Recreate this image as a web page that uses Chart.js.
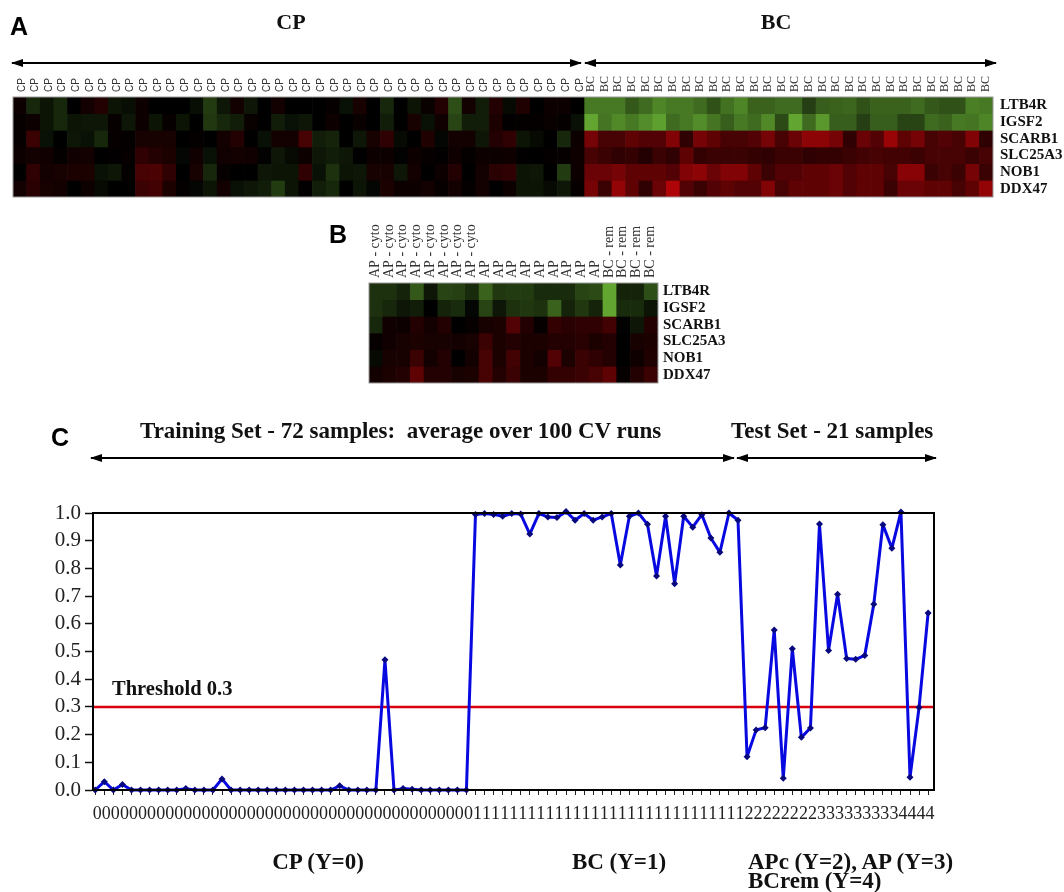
<!DOCTYPE html>
<html lang="en">

<head>
    <meta charset="UTF-8">
    <title>Classifier panels</title>
    <script src="https://cdn.jsdelivr.net/npm/chart.js"></script>
    <style>
        html, body { margin: 0; padding: 0; background: #fff; }
        #page { position: relative; width: 1064px; height: 892px; overflow: hidden; }
        canvas { position: absolute; left: 0; }
        .t { position: absolute; font: bold 23px "Liberation Serif", serif; color: #111; white-space: pre; line-height: 24px; }
        .c { transform: translateX(-50%); }
        .p { font: bold 25px "Liberation Sans", sans-serif; color: #000; line-height: 28px; }
        svg { position: absolute; left: 0; top: 0; }
    </style>
</head>

<body>
    <div id="page">
        <canvas id="panelA" width="1064" height="153" style="top:60px"></canvas>
        <canvas id="panelB" width="1064" height="182" style="top:215px"></canvas>
        <canvas id="panelC" width="1064" height="340" style="top:490px"></canvas>

        <svg width="1064" height="892">
            <defs>
                <marker id="head" markerUnits="userSpaceOnUse" markerWidth="12" markerHeight="8" refX="11" refY="4" orient="auto-start-reverse">
                    <path d="M0,0 L12,4 L0,8 z" fill="#000"></path>
                </marker>
            </defs>
            <g stroke="#000" stroke-width="2">
                <line x1="12" y1="63" x2="581" y2="63" marker-start="url(#head)" marker-end="url(#head)"></line>
                <line x1="585" y1="63" x2="996" y2="63" marker-start="url(#head)" marker-end="url(#head)"></line>
                <line x1="91" y1="458" x2="734" y2="458" marker-start="url(#head)" marker-end="url(#head)"></line>
                <line x1="737" y1="458" x2="936" y2="458" marker-start="url(#head)" marker-end="url(#head)"></line>
            </g>
        </svg>

        <div class="t p" style="left:10px;top:12px">A</div>
        <div class="t p" style="left:329px;top:220px">B</div>
        <div class="t p" style="left:51px;top:423px">C</div>
        <div class="t c" style="left:291px;top:10px;font-size:22px">CP</div>
        <div class="t c" style="left:776px;top:10px;font-size:22px">BC</div>
        <div class="t" style="left:140px;top:419px">Training Set - 72 samples:  average over 100 CV runs</div>
        <div class="t" style="left:731px;top:419px">Test Set - 21 samples</div>
        <div class="t" style="left:112px;top:676px;font-size:20.5px">Threshold 0.3</div>
        <div class="t c" style="left:318px;top:850px">CP (Y=0)</div>
        <div class="t c" style="left:619px;top:850px">BC (Y=1)</div>
        <div class="t" style="left:748px;top:850px">APc (Y=2), AP (Y=3)</div>
        <div class="t" style="left:748px;top:869px">BCrem (Y=4)</div>
    </div>

    <script>
        const genes = ['LTB4R', 'IGSF2', 'SCARB1', 'SLC25A3', 'NOB1', 'DDX47'];

        // panel A samples, 42 CP then 30 BC. negative = green, positive = red
        const samplesA = [...Array(42).fill('CP'), ...Array(30).fill('BC')];
        const a_LTB4R = [.05, -.2, -.1, -.2, 0, .08, .15, -.1, -.07, .05, 0, 0, 0, -.07, -.3, -.12, .08, -.12, 0, .08, 0, 0, 0, .03, -.08, .1, 0, -.2, 0, -.1, .04, .15, -.4, .08, -.15, .15, -.05, .13, 0, .05, .05, 0,
            -.62, -.62, -.62, -.45, -.55, -.68, -.62, -.62, -.55, -.42, -.58, -.68, -.5, -.5, -.55, -.55, -.32, -.48, -.5, -.52, -.42, -.5, -.5, -.5, -.55, -.45, -.42, -.42, -.65, -.62];
        const a_IGSF2 = [.03, .05, -.1, -.2, -.1, -.12, -.12, .03, -.12, .05, -.1, .03, -.1, 0, -.28, -.2, -.15, .04, 0, -.15, -.08, -.12, 0, .05, 0, .04, 0, -.15, 0, .1, -.08, .07, -.35, -.15, -.15, .12, .01, .02, .02, .04, .02, -.08,
            -.85, -.6, -.7, -.62, -.72, -.82, -.55, -.62, -.72, -.6, -.48, -.62, -.55, -.7, -.38, -.85, -.55, -.78, -.48, -.48, -.32, -.48, -.48, -.35, -.35, -.55, -.5, -.62, -.6, -.68];
        const a_SCARB1 = [.03, .25, -.08, 0, -.12, -.08, -.2, .03, .02, .1, .1, .1, 0, .02, 0, .08, .15, 0, -.08, .08, .08, .3, -.15, -.18, 0, -.12, .1, .2, -.05, 0, .13, -.03, .08, .08, -.12, .15, .2, -.1, -.05, 0, -.2, .05,
            .5, .3, .3, .4, .35, .35, .55, .2, .5, .4, .3, .3, .35, .5, .3, .45, .6, .6, .5, .2, .45, .35, .65, .4, .5, .3, .35, .3, .55, .2];
        const a_SLC25A3 = [.05, .08, .07, .02, .07, .08, 0, .01, .03, .2, .15, .12, -.03, .07, -.08, .07, .08, .07, -.01, -.12, -.05, .05, -.12, -.15, -.12, 0, .05, .05, -.01, .05, .03, .01, .06, .02, .05, .05, .06, .01, 0, .02, .03, .06,
            .3, .25, .2, .22, .15, .25, .2, .4, .22, .25, .25, .25, .22, .2, .25, .25, .2, .22, .22, .25, .28, .3, .28, .28, .25, .3, .3, .3, .25, .3];
        const a_NOB1 = [0, .2, .08, .1, .12, .12, -.08, -.12, .02, .3, .32, .2, 0, .1, -.2, .03, 0, 0, -.12, -.1, -.1, .2, -.08, -.25, -.1, -.12, .1, .1, -.12, .08, 0, .05, .15, 0, .08, .18, .2, -.1, -.12, 0, -.3, .05,
            .45, .45, .5, .4, .4, .4, .35, .55, .6, .45, .55, .55, .4, .25, .35, .35, .4, .4, .45, .35, .4, .4, .3, .58, .58, .25, .3, .25, .5, .25];
        const a_DDX47 = [.08, .18, .1, .08, 0, .05, -.05, 0, 0, .25, .28, .12, .02, -.03, -.1, .08, -.08, -.12, -.15, -.3, -.1, .01, -.15, -.2, 0, -.1, -.03, .12, .05, .05, .08, .03, .08, .02, .08, 0, .05, -.1, -.1, -.05, -.12, .03,
            .5, .25, .62, .4, .2, .45, .75, .35, .25, .35, .4, .35, .35, .55, .3, .4, .4, .4, .45, .35, .4, .4, .25, .45, .45, .4, .4, .3, .4, .62];

        // panel B samples
        const samplesB = [...Array(8).fill('AP - cyto'), ...Array(9).fill('AP'), ...Array(4).fill('BC - rem')];
        const b_LTB4R = [-.25, -.25, -.18, -.45, -.12, -.35, -.33, -.22, -.5, -.28, -.3, -.3, -.22, -.22, -.22, -.35, -.38, -.85, -.18, -.18, -.4];
        const b_IGSF2 = [-.25, -.2, -.12, -.15, 0, -.18, -.22, -.03, -.35, -.12, -.25, -.28, -.25, -.5, -.18, -.28, -.18, -.85, -.22, -.22, -.1];
        const b_SCARB1 = [-.2, .07, .05, .15, .08, .15, 0, .03, .1, .12, .35, .15, .03, .22, .18, .2, .2, .28, -.01, -.12, .15];
        const b_SLC25A3 = [.03, .07, .1, .12, .1, .1, .08, .1, .25, .12, .15, .12, .12, .15, .15, .18, .12, .15, 0, .1, .12];
        const b_NOB1 = [-.05, .1, .1, .25, .08, .15, 0, .08, .3, .12, .28, .12, .08, .35, .12, .25, .2, .15, 0, .06, .13];
        const b_DDX47 = [.08, .12, .15, .4, .15, .15, .1, .12, .3, .15, .25, .12, .12, .22, .22, .25, .3, .4, .03, .15, .25];

        // panel C: predicted probability for the 93 samples
        const probCP = [0, .03, 0, .02, 0, 0, 0, 0, 0, 0, .005, 0, 0, 0, .04, 0, 0, 0, 0, 0, 0, 0, 0, 0, 0, 0, 0, .015, 0, 0, 0, 0, .47, 0, .005, .003, 0, 0, 0, 0, 0, 0];
        const probBC = [.995, .998, .995, .988, .998, .996, .924, .998, .986, .984, 1.005, .974, .998, .974, .986, .998, .812, .988, 1, .959, .773, .988, .745, .988, .949, .994, .91, .858, 1, .974];
        const probTest = [.12, .217, .225, .578, .042, .51, .19, .224, .96, .504, .707, .475, .472, .486, .671, .958, .873, 1.004, .046, .298, .639];
        const classLabels = [...Array(42).fill('0'), ...Array(30).fill('1'), ...Array(8).fill('2'), ...Array(9).fill('3'), ...Array(4).fill('4')];
        const yTicks = [0, .1, .2, .3, .4, .5, .6, .7, .8, .9, 1];
        const threshold = 0.3;

        Chart.defaults.animation = false;
        Chart.defaults.responsive = false;

        function cellColor(v) {
            const m = Math.abs(v);
            if (v < 0) return `rgb(${115 * m},${195 * m},${58 * m})`;
            return `rgb(${235 * m},${6 * m},${10 * m})`;
        }

        const frame = color => ({
            id: 'frame',
            afterDatasetsDraw(chart) {
                const { ctx, chartArea: a } = chart;
                ctx.save();
                ctx.strokeStyle = color;
                ctx.lineWidth = color === '#000' ? 2 : 1;
                ctx.strokeRect(a.left, a.top, a.right - a.left, a.bottom - a.top);
                ctx.restore();
            }
        });

        function heatmap(id, samples, rows, opts) {
            new Chart(document.getElementById(id), {
                type: 'bar',
                data: {
                    labels: samples,
                    datasets: rows.map((row, r) => ({
                        data: row.map(() => [r, r + 1]),
                        backgroundColor: row.map(cellColor),
                        borderWidth: 0,
                        barPercentage: 1,
                        categoryPercentage: 1,
                        grouped: false
                    }))
                },
                options: {
                    layout: { padding: opts.padding },
                    plugins: { legend: { display: false }, tooltip: { enabled: false } },
                    scales: {
                        x: {
                            position: 'top',
                            grid: { display: false, drawTicks: false },
                            border: { display: false },
                            afterFit: s => { s.height = opts.topHeight },
                            ticks: {
                                autoSkip: false, minRotation: 90, maxRotation: 90, padding: 5,
                                labelOffset: opts.labelOffset,
                                color: '#333',
                                font: opts.tickFont
                            }
                        },
                        y: {
                            position: 'right',
                            min: 0, max: rows.length, reverse: true,
                            grid: { display: false, drawTicks: false },
                            border: { display: false },
                            afterFit: s => { s.width = opts.labelWidth },
                            afterBuildTicks: s => { s.ticks = genes.map((_, i) => ({ value: i + 0.5 })) },
                            ticks: {
                                autoSkip: false, padding: opts.labelPad, color: '#111',
                                font: { family: '"Liberation Serif", serif', size: 15, weight: 'bold' },
                                callback: v => genes[Math.floor(v)]
                            }
                        }
                    }
                },
                plugins: [frame('#9a9a9a')]
            });
        }

        heatmap('panelA', samplesA, [a_LTB4R, a_IGSF2, a_SCARB1, a_SLC25A3, a_NOB1, a_DDX47], {
            padding: { left: 13, right: 0, top: 0, bottom: 13 },
            topHeight: 37,
            labelWidth: 71,
            labelPad: 7,
            labelOffset: 14,
            tickFont: c => samplesA[c.index] === 'CP'
                ? { family: '"Liberation Sans", sans-serif', size: 10 }
                : { family: '"Liberation Serif", serif', size: 12 }
        });

        heatmap('panelB', samplesB, [b_LTB4R, b_IGSF2, b_SCARB1, b_SLC25A3, b_NOB1, b_DDX47], {
            padding: { left: 369, right: 300, top: 0, bottom: 0 },
            topHeight: 68,
            labelWidth: 106,
            labelPad: 5,
            labelOffset: 16,
            tickFont: { family: '"Liberation Serif", serif', size: 14 }
        });

        const probs = [...probCP, ...probBC, ...probTest];
        new Chart(document.getElementById('panelC'), {
            type: 'line',
            data: {
                datasets: [{
                    data: [{ x: -0.25, y: threshold }, { x: 92.65, y: threshold }],
                    borderColor: '#d8000f',
                    borderWidth: 2.5,
                    pointRadius: 0,
                    order: 2
                }, {
                    data: probs.map((p, i) => ({ x: i, y: p })),
                    borderColor: '#0808e0',
                    borderWidth: 3,
                    borderJoinStyle: 'round',
                    pointStyle: 'rectRot',
                    pointRadius: 3.5,
                    pointBackgroundColor: '#08087e',
                    pointBorderColor: '#08087e',
                    pointBorderWidth: 0,
                    clip: false,
                    order: 1
                }]
            },
            options: {
                layout: { padding: { left: 0, right: 130, top: 23, bottom: 0 } },
                plugins: { legend: { display: false }, tooltip: { enabled: false } },
                scales: {
                    x: {
                        type: 'linear',
                        min: -0.25, max: 92.65,
                        grid: { drawOnChartArea: false, tickLength: 5, tickColor: '#222', tickWidth: 1 },
                        border: { color: '#000', width: 2 },
                        afterFit: s => { s.height = 40 },
                        afterBuildTicks: s => { s.ticks = classLabels.map((_, i) => ({ value: i })) },
                        ticks: {
                            autoSkip: false, maxRotation: 0, padding: 8, labelOffset: 2, color: '#222',
                            font: { family: '"Liberation Serif", serif', size: 18 },
                            callback: v => classLabels[v]
                        }
                    },
                    y: {
                        min: 0, max: 1,
                        grid: { drawOnChartArea: false, tickLength: 8, tickColor: '#111', tickWidth: 1.5 },
                        border: { color: '#000', width: 2 },
                        afterFit: s => { s.width = 93 },
                        afterBuildTicks: s => { s.ticks = yTicks.map(v => ({ value: v })) },
                        ticks: {
                            autoSkip: false, padding: 4, color: '#222',
                            font: { family: '"Liberation Serif", serif', size: 21 },
                            callback: v => v.toFixed(1)
                        }
                    }
                }
            },
            plugins: [frame('#000')]
        });
    </script>
</body>

</html>
